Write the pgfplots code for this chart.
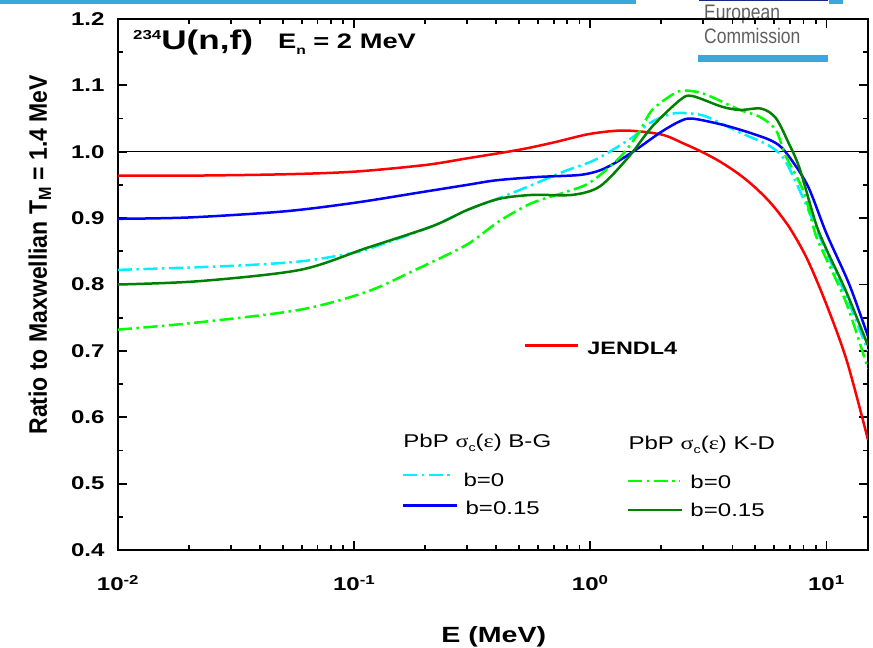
\documentclass[border=0pt]{standalone}
\usepackage{fontspec}
\setmainfont{Liberation Sans}[FakeStretch=1.3]
\newfontfamily\plainfont{Liberation Sans}
\newfontfamily\greekfont{Liberation Serif}[FakeStretch=1.3]
\usepackage{graphicx}
\usepackage{pgfplots}
\pgfplotsset{compat=1.18}

\definecolor{ecblue}{RGB}{58,168,220}
\definecolor{ecnavy}{RGB}{20,40,140}
\definecolor{cyanc}{RGB}{0,240,255}
\definecolor{limec}{RGB}{0,255,0}
\definecolor{dgreen}{RGB}{0,128,0}
\definecolor{logogray}{RGB}{95,95,95}

\newcommand\fs[1]{\fontsize{#1}{#1}\selectfont}

\tikzset{
  curve/.style={line width=2.5pt, smooth},
  dashdot/.style={dash pattern=on 14pt off 4.5pt on 2.5pt off 4.5pt},
}

\begin{document}
\begin{tikzpicture}[x=1pt,y=1pt]
\useasboundingbox (0,0) rectangle (873,648);

% header strip and logo
\fill[ecblue] (0,644) rectangle (636,648);
\fill[ecblue] (829,644) rectangle (843,648);
\fill[ecnavy] (699,646.8) rectangle (828,648);
\node[anchor=base west, inner sep=0, text=logogray, font=\plainfont\fs{17.5}] at (704,628)
  {\scalebox{1}[1.2]{European}};
\node[anchor=base west, inner sep=0, text=logogray, font=\plainfont\fs{17.5}] at (704,604)
  {\scalebox{1}[1.2]{Commission}};
\fill[ecblue] (698,586) rectangle (828,593);

\begin{axis}[
  at={(118pt,98pt)}, anchor=south west,
  width=750pt, height=531pt, scale only axis,
  xmode=log, xmin=0.01, xmax=15,
  ymin=0.4, ymax=1.2,
  separate axis lines,
  every outer x axis line/.append style={line width=2.2pt, line cap=rect},
  every outer y axis line/.append style={line width=2.2pt, line cap=rect},
  every tick/.style={black, line width=1.8pt},
  tick align=inside,
  major tick length=9pt, minor tick length=5pt,
  xtick={0.01,0.1,1,10},
  xticklabels={10\textsuperscript{-2},10\textsuperscript{-1},10\textsuperscript{0},10\textsuperscript{1}},
  ytick={0.4,0.5,0.6,0.7,0.8,0.9,1.0,1.1,1.2},
  yticklabels={0.4,0.5,0.6,0.7,0.8,0.9,1.0,1.1,1.2},
  minor ytick={0.45,0.55,0.65,0.75,0.85,0.95,1.05,1.15},
  tick label style={font=\fs{18.5}\bfseries},
  xticklabel style={anchor=base, yshift=-41pt},
  yticklabel style={xshift=-10pt},
  xlabel={E (MeV)},
  xlabel style={font=\fs{22}\bfseries, at={(axis description cs:0.501,-0.1733)}, anchor=base},
  ylabel={\scalebox{1}[1.1]{Ratio to Maxwellian T\textsubscript{M} = 1.4 MeV}},
  ylabel style={font=\plainfont\fs{23}\bfseries, at={(axis description cs:-0.0947,0.556)}, anchor=base},
  clip=true,
]
\addplot[black, line width=1.3pt] coordinates {(0.01,1.0) (15,1.0)};

% JENDL4
\addplot[red, curve] coordinates {
(0.01,0.964)(0.02,0.964)(0.05,0.966)(0.1,0.970)(0.2,0.980)(0.3,0.990)(0.5,1.003)
(0.7,1.014)(1.0,1.027)(1.4,1.032)(2.0,1.026)(2.5,1.012)(3.0,0.999)(3.55,0.985)
(4.27,0.966)(5.0,0.946)(5.9,0.920)(7.0,0.885)(8.3,0.838)(10,0.770)(12.2,0.685)(15,0.566)};

% PbP B-G b=0
\addplot[cyanc, curve, dashdot] coordinates {
(0.01,0.822)(0.03,0.828)(0.06,0.835)(0.1,0.848)(0.125,0.858)(0.215,0.888)(0.30,0.912)
(0.41,0.930)(0.55,0.948)(0.77,0.970)(1.05,0.988)(1.5,1.021)(1.78,1.043)(2.2,1.057)
(2.6,1.058)(3.1,1.053)(4.3,1.029)(5.6,1.011)(6.5,0.993)(7.3,0.960)(8.8,0.895)
(10,0.848)(12.2,0.780)(15,0.700)};

% PbP B-G b=0.15
\addplot[blue, curve] coordinates {
(0.01,0.899)(0.02,0.901)(0.05,0.910)(0.1,0.923)(0.2,0.940)(0.3,0.950)(0.4,0.957)
(0.6,0.962)(0.9,0.965)(1.1,0.972)(1.3,0.985)(1.56,1.003)(2.0,1.030)(2.4,1.046)
(2.7,1.050)(3.6,1.041)(4.7,1.029)(5.9,1.016)(6.7,1.000)(8.3,0.950)(10,0.877)
(12.5,0.800)(15,0.722)};

% PbP K-D b=0
\addplot[limec, curve, dashdot] coordinates {
(0.01,0.732)(0.022,0.743)(0.059,0.762)(0.113,0.789)(0.184,0.823)(0.30,0.860)(0.41,0.895)
(0.56,0.922)(0.75,0.937)(0.99,0.953)(1.33,0.991)(1.6,1.028)(1.83,1.063)(2.3,1.089)
(2.6,1.092)(3.1,1.086)(4.3,1.063)(5.2,1.053)(6.1,1.033)(6.7,0.995)(8.0,0.940)
(9.0,0.875)(10,0.838)(12.2,0.770)(15,0.673)};

% PbP K-D b=0.15
\addplot[dgreen, curve] coordinates {
(0.01,0.800)(0.022,0.805)(0.059,0.822)(0.113,0.855)(0.215,0.888)(0.30,0.912)(0.41,0.929)
(0.57,0.935)(0.84,0.935)(1.1,0.948)(1.46,0.993)(1.83,1.038)(2.4,1.078)(2.7,1.084)
(3.6,1.068)(4.3,1.063)(5.3,1.065)(6.1,1.051)(6.9,1.014)(7.7,0.975)(9.0,0.893)
(10,0.853)(12.1,0.790)(15,0.708)};

% titles
\node[anchor=base west, inner sep=0, font=\fs{27}\bfseries] at (rel axis cs:0.02,0.9435)
  {\raisebox{10pt}{\fs{13}\bfseries 234}U(n,f)};
\node[anchor=base west, inner sep=0, font=\fs{21}\bfseries] at (rel axis cs:0.2133,0.945)
  {E\raisebox{-6pt}{\fs{12}\bfseries n} = 2 MeV};

% legend
\draw[red, line width=2.5pt] (axis cs:0.531,0.708) -- (axis cs:0.889,0.708);
\node[anchor=base west, inner sep=0, font=\fs{18}\bfseries] at (axis cs:0.971,0.694) {JENDL4};

\node[anchor=base west, inner sep=0, font=\fs{18.5}] at (axis cs:0.1614,0.554)
  {PbP {\greekfont σ}\raisebox{-4pt}{\fs{11}c}({\greekfont ε}) B-G};
\draw[cyanc, line width=2.5pt, dashdot] (axis cs:0.1614,0.513) -- (axis cs:0.263,0.513);
\node[anchor=base west, inner sep=0, font=\fs{18.5}] at (axis cs:0.290,0.496) {b=0};
\draw[blue, line width=2.5pt] (axis cs:0.1614,0.467) -- (axis cs:0.273,0.467);
\node[anchor=base west, inner sep=0, font=\fs{18.5}] at (axis cs:0.296,0.454) {b=0.15};

\node[anchor=base west, inner sep=0, font=\fs{18.5}] at (axis cs:1.449,0.551)
  {PbP {\greekfont σ}\raisebox{-4pt}{\fs{11}c}({\greekfont ε}) K-D};
\draw[limec, line width=2.5pt, dashdot] (axis cs:1.449,0.504) -- (axis cs:2.405,0.504);
\node[anchor=base west, inner sep=0, font=\fs{18.5}] at (axis cs:2.652,0.492) {b=0};
\draw[dgreen, line width=2.5pt] (axis cs:1.449,0.460) -- (axis cs:2.45,0.460);
\node[anchor=base west, inner sep=0, font=\fs{18.5}] at (axis cs:2.652,0.450) {b=0.15};
\end{axis}
\end{tikzpicture}
\end{document}
